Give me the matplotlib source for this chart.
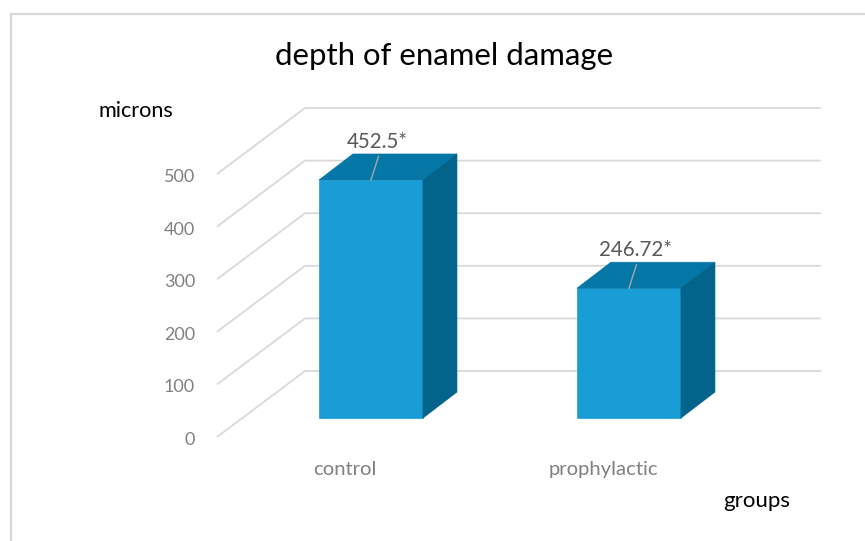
import matplotlib
matplotlib.use('Agg')
import matplotlib.pyplot as plt
from matplotlib.patches import Polygon
from matplotlib.lines import Line2D
import numpy as np

plt.rcParams['font.family'] = ['Lato', 'DejaVu Sans']

# data
groups = ['control', 'prophylactic']
depth_um = [452.5, 246.72]
value_labels = ['452.5*', '246.72*']
yticks = [0, 100, 200, 300, 400, 500]

FRONT = '#199DD7'
TOP = '#0477A7'
SIDE = '#02648A'
GRID = '#D9D9D9'
TICK = '#808080'

W, H, DPI = 865, 541, 100
fig = plt.figure(figsize=(W / DPI, H / DPI), dpi=DPI)
ax = fig.add_axes([0, 0, 1, 1])
ax.set_xlim(-1.438, 1.915)
ax.set_ylim(-233.8, 794.7)
ax.axis('off')


def px(dx, dy):
    # pixel offset -> data offset (fake 3d depth)
    inv = ax.transData.inverted()
    return inv.transform((dx, dy)) - inv.transform((0, 0))


def at(x, y, dx, dy):
    o = px(dx, dy)
    return x + o[0], y + o[1]


x = np.arange(len(groups))
width = 0.403
bar_depth = (34, 26)
floor_front = (-25, -19)
floor_back = (63, 47)

# back wall gridlines + slanted floor lines
for v in yticks:
    x0, y0 = at(-0.5, v, *floor_front)
    x1, y1 = at(-0.5, v, *floor_back)
    x2, y2 = at(len(groups) - 0.5, v, *floor_back)
    ax.plot([x0, x1, x2], [y0, y1, y2], color=GRID, lw=1.3, zorder=1,
            solid_capstyle='butt')
    tx, ty = at(-0.5, v, -47, -27)
    ax.text(tx, ty, str(v), ha='right', va='baseline', fontsize=13, color=TICK)

# bars
ax.bar(x, depth_um, width=width, color=FRONT, edgecolor=FRONT, lw=0.5, zorder=3)
ddx, ddy = px(*bar_depth)
for xi, v in zip(x, depth_um):
    l, r = xi - width / 2, xi + width / 2
    top = [(l, v), (r, v), (r + ddx, v + ddy), (l + ddx, v + ddy)]
    side = [(r, 0), (r + ddx, ddy), (r + ddx, v + ddy), (r, v)]
    ax.add_patch(Polygon(top, closed=True, fc=TOP, ec=TOP, lw=0.5, zorder=3))
    ax.add_patch(Polygon(side, closed=True, fc=SIDE, ec=SIDE, lw=0.5, zorder=3))

# data labels with leader lines
for xi, v, lab in zip(x, depth_um, value_labels):
    lx, ly = at(xi, v, 7.5, 23.5)
    ax.plot([xi, lx], [v, ly], color='#A6A6A6', lw=1, zorder=4)
    tx, ty = at(xi, v, 6, 32.5)
    ax.text(tx, ty, lab, ha='center', va='baseline', fontsize=14.8,
            color='#595959', zorder=5)

# category labels
for xi, g in zip(x, groups):
    tx, ty = at(xi, 0, -26, -57)
    ax.text(tx, ty, g, ha='center', va='baseline', fontsize=14.6, color=TICK)

fig.text(444 / W, 1 - 65 / H, 'depth of enamel damage', ha='center',
         va='baseline', fontsize=22.4, color='black')
fig.text(98 / W, 1 - 117 / H, 'microns', ha='left', va='baseline',
         fontsize=15.6, color='black')
fig.text(723 / W, 1 - 507 / H, 'groups', ha='left', va='baseline',
         fontsize=16, color='black')

# chart frame (only top and left edges are visible in the reference)
fig.add_artist(Line2D([10.5 / W, 10.5 / W], [0, 1 - 14 / H], color=GRID,
                      lw=1.6, transform=fig.transFigure))
fig.add_artist(Line2D([10.5 / W, 1], [1 - 14 / H, 1 - 14 / H], color=GRID,
                      lw=1.6, transform=fig.transFigure))

fig.savefig('out.png', dpi=DPI)
